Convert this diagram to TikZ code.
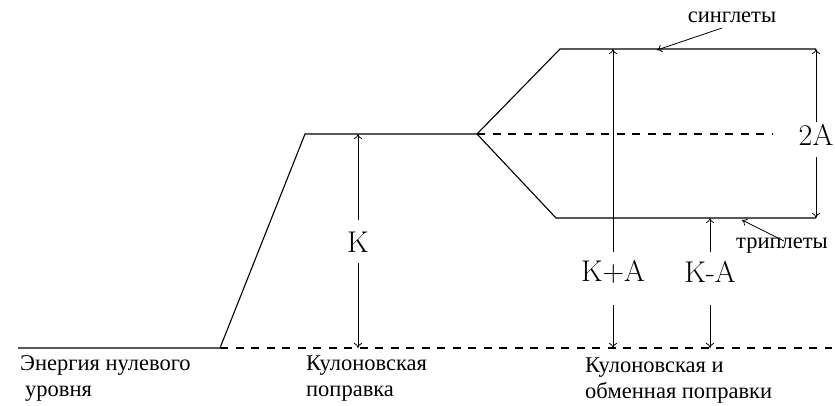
\documentclass[tikz,border=0pt]{standalone}
\usepackage{fontspec}
\newfontfamily\cyr{Liberation Serif}
\usetikzlibrary{arrows.meta}
\begin{document}
\begin{tikzpicture}[x=1pt,y=-1pt,
  lvl/.style={line width=1.1pt, line join=miter},
  dsh/.style={line width=1.1pt, dash pattern=on 8pt off 7.5pt},
  dim/.style={line width=0.8pt, -{To[length=5pt,width=8pt]}},
  big/.style={font=\fontsize{30}{36}\selectfont, inner sep=0pt},
  lab/.style={font=\cyr\fontsize{22.5}{25.5}\selectfont, align=left, inner sep=0pt, anchor=base west},
  small/.style={font=\cyr\fontsize{22.5}{25}\selectfont, inner sep=0pt}]
\useasboundingbox (0,0) rectangle (835,405);
% key points
\coordinate (z0) at (18,348);
\coordinate (z1) at (220,348);
\coordinate (zE) at (832,348);
\coordinate (k0) at (305,134);
\coordinate (k1) at (477,134);
\coordinate (kE) at (772,134);
\coordinate (s0) at (560,49);
\coordinate (s1) at (816,49);
\coordinate (t0) at (556,218);
\coordinate (t1) at (816,218);
% levels
\draw[lvl] (z0) -- (z1) -- (k0) -- (k1) -- (s0) -- (s1);
\draw[lvl] (k1) -- (t0) -- (t1);
\draw[dsh] (z1) -- (zE);
\draw[dsh] (k1) -- (kE);
% K
\node[big] (K) at (358,242) {K};
\coordinate (Kt) at (358,134);
\coordinate (Kb) at (358,348);
\draw[dim] (358,220) -- (Kt);
\draw[dim] (358,263) -- (Kb);
% K+A
\node[big] (KpA) at (613,272) {K+A};
\coordinate (KpAt) at (613,49);
\coordinate (KpAb) at (613,348);
\draw[dim] (613,252) -- (KpAt);
\draw[dim] (613,305) -- (KpAb);
% K-A
\node[big] (KmA) at (710,272) {K-A};
\coordinate (KmAt) at (710,218);
\coordinate (KmAb) at (710,348);
\draw[dim] (710,252) -- (KmAt);
\draw[dim] (710,305) -- (KmAb);
% 2A
\node[big] (A2) at (816,135) {2A};
\draw[dim] (816,122) -- (s1);
\draw[dim] (816,157) -- (t1);
% singlets / triplets
\node[small] (sing) at (732,17) {синглеты};
\draw[line width=0.8pt, -{To[length=5pt,width=8pt]}] (722,28) -- (657,50);
\node[small] (trip) at (782,246) {триплеты};
\draw[line width=0.8pt, -{To[length=5pt,width=8pt]}] (784,241) -- (742,220);
% bottom labels
\node[lab] (l1) at (20,396) {Энергия нулевого\\\hspace*{5pt}уровня};
\node[lab] (l2) at (306,396) {Кулоновская\\поправка};
\node[lab] (l3) at (585,398) {Кулоновская и\\обменная поправки};
\end{tikzpicture}
\end{document}
